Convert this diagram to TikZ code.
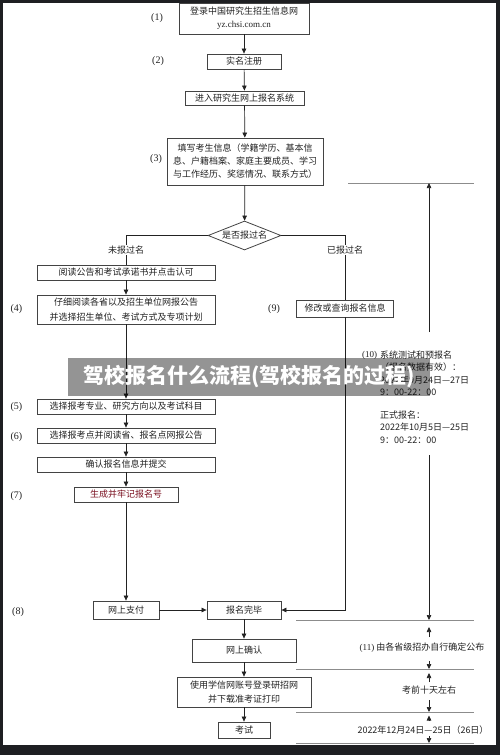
\documentclass[tikz,border=0pt]{standalone}
\usepackage{fontspec}
\setmainfont{Liberation Serif}
\newfontfamily\cjk{Noto Sans CJK SC}
\usetikzlibrary{positioning,arrows.meta,shapes.geometric}

\definecolor{frame}{HTML}{1E1F22}
\definecolor{ink}{HTML}{222222}
\definecolor{regred}{HTML}{7A1020}

\tikzset{
  box/.style={draw=ink!85, line width=0.8pt, fill=white, inner sep=0pt, align=center,
    font=\cjk\fontsize{9}{13}\selectfont, text=ink},
  num/.style={font=\fontsize{10}{12}\selectfont, text=ink, inner sep=0pt},
  arr/.style={-{Triangle[length=5pt,width=4.5pt]}, line width=0.7pt, draw=ink},
  ln/.style={line width=0.7pt, draw=ink},
  sep/.style={line width=0.9pt, draw=gray!90},
  note/.style={font=\cjk\fontsize{9}{12.4}\selectfont, text=ink, align=left, inner sep=0pt},
}

\begin{document}
\begin{tikzpicture}[x=1pt,y=-1pt]
    \useasboundingbox (0,0) rectangle (500,755);
    % Cadre sombre
    \fill[frame] (0,0) rectangle (500,755);
    \fill[white] (3,3) rectangle (496,745);

    % Colonne centrale
    \node[box, minimum width=130pt, minimum height=31pt] (login) at (244,18.5)
        {登录中国研究生招生信息网\\{\rmfamily yz.chsi.com.cn}};
    \node[box, minimum width=74pt, minimum height=15pt] (register) at (244,61.5) {实名注册};
    \node[box, minimum width=119pt, minimum height=14pt] (enter) at (244.5,98) {进入研究生网上报名系统};
    \node[box, minimum width=156pt, minimum height=47pt] (fill) at (245,161.5)
        {填写考生信息（学籍学历、基本信\\息、户籍档案、家庭主要成员、学习\\与工作经历、奖惩情况、联系方式）};
    \node[diamond, draw=ink!85, line width=0.8pt, fill=white, inner sep=0pt, aspect=2.5,
        minimum width=73pt, minimum height=29pt, font=\cjk\fontsize{9}{11}\selectfont, text=ink]
        (ask) at (244.5,235.5) {是否报过名};

    % Branche gauche
    \node[box, minimum width=178pt, minimum height=15pt] (read) at (126,272.5) {阅读公告和考试承诺书并点击认可};
    \node[box, minimum width=178pt, minimum height=29pt, font=\cjk\fontsize{9}{15}\selectfont] (choose) at (126,309.5)
        {仔细阅读各省以及招生单位网报公告\\并选择招生单位、考试方式及专项计划};
    \node[box, minimum width=178pt, minimum height=15pt] (major) at (126,406.5) {选择报考专业、研究方向以及考试科目};
    \node[box, minimum width=178pt, minimum height=15pt] (site) at (126,435.5) {选择报考点并阅读省、报名点网报公告};
    \node[box, minimum width=178pt, minimum height=15pt] (submit) at (126,464.5) {确认报名信息并提交};
    \node[box, minimum width=104pt, minimum height=15pt, text=regred] (number) at (126,494.5) {生成并牢记报名号};
    \node[box, minimum width=66pt, minimum height=18pt] (pay) at (126,610) {网上支付};

    % Branche droite
    \node[box, minimum width=97pt, minimum height=17pt] (modify) at (345,308.5) {修改或查询报名信息};
    \node[box, minimum width=74pt, minimum height=18pt] (done) at (244,610) {报名完毕};

    % Fin
    \node[box, minimum width=104pt, minimum height=23pt] (confirm) at (244,650.5) {网上确认};
    \node[box, minimum width=134pt, minimum height=30pt, font=\cjk\fontsize{9}{14}\selectfont] (print) at (244,692)
        {使用学信网账号登录研招网\\并下载准考证打印};
    \node[box, minimum width=52pt, minimum height=16pt] (exam) at (244,730) {考试};

    % Numéros
    \node[num] at (157,18) {(1)};
    \node[num] at (158,61) {(2)};
    \node[num] at (156,159) {(3)};
    \node[num] at (16.5,309) {(4)};
    \node[num] at (16.5,407) {(5)};
    \node[num] at (16.5,437) {(6)};
    \node[num] at (16.5,496) {(7)};
    \node[num] at (18,612) {(8)};
    \node[num] at (274,309) {(9)};

    % Flèches
    \draw[arr] (login) -- (register);
    \draw[arr] (register) -- (enter);
    \draw[arr] (enter) -- (fill);
    \draw[arr] (fill) -- (ask);
    \draw[ln] (ask.west) -| (read.north);
    \draw[ln] (ask.east) -| (modify.north);
    \node[fill=white, inner sep=1pt, font=\cjk\fontsize{9}{11}\selectfont, text=ink] (notyet) at (126,250) {未报过名};
    \node[fill=white, inner sep=1pt, font=\cjk\fontsize{9}{11}\selectfont, text=ink] (already) at (345,250) {已报过名};
    \draw[arr] (read) -- (choose);
    \draw[arr] (choose) -- (major);
    \draw[arr] (major) -- (site);
    \draw[arr] (site) -- (submit);
    \draw[arr] (submit) -- (number);
    \draw[arr] (number) -- (pay);
    \draw[arr] (pay) -- (done);
    \draw[arr] (modify.south) |- (done.east);
    \draw[arr] (done) -- (confirm);
    \draw[arr] (confirm) -- (print);
    \draw[arr] (print) -- (exam);

    % Calendrier à droite
    \draw[sep] (348,183) -- (474,183);
    \foreach \y in {620,669,712,743} {
        \draw[sep] (296,\y) -- (474,\y);
    }
    \draw[arr] (429,332) -- (429,183);
    \node[num, font=\fontsize{9}{11}\selectfont] (step10) at (369.5,355) {(10)};
    \node[note, anchor=north west] (test) at (380,350.5)
        {系统测试和预报名\\（报名数据有效）：\\2022年9月24日—27日\\9：00-22：00};
    \node[note, anchor=north west] (formal) at (380,410.5)
        {正式报名：\\2022年10月5日—25日\\9：00-22：00};
    \draw[arr] (429,455) -- (429,620);
    \node[note] (step11) at (422,648) {{\rmfamily (11)} 由各省级招办自行确定公布};
    \draw[arr] (429,637) -- (429,627);
    \draw[arr] (429,661) -- (429,669);
    \node[note] (tendays) at (429,690) {考前十天左右};
    \draw[arr] (429,682) -- (429,673);
    \draw[arr] (429,700) -- (429,712);
    \node[note] (date) at (423,730) {2022年12月24日—25日（26日）};
    \draw[arr] (429,721) -- (429,715.5);
    \draw[arr] (429,736) -- (429,743);

    % Bandeau
    \node[fill=black, fill opacity=0.42, text opacity=1, text=white, inner sep=0pt,
        minimum width=362pt, minimum height=38pt, font=\cjk\bfseries\fontsize{21}{21}\selectfont]
        (banner) at (249,377) {驾校报名什么流程(驾校报名的过程)};
\end{tikzpicture}
\end{document}
